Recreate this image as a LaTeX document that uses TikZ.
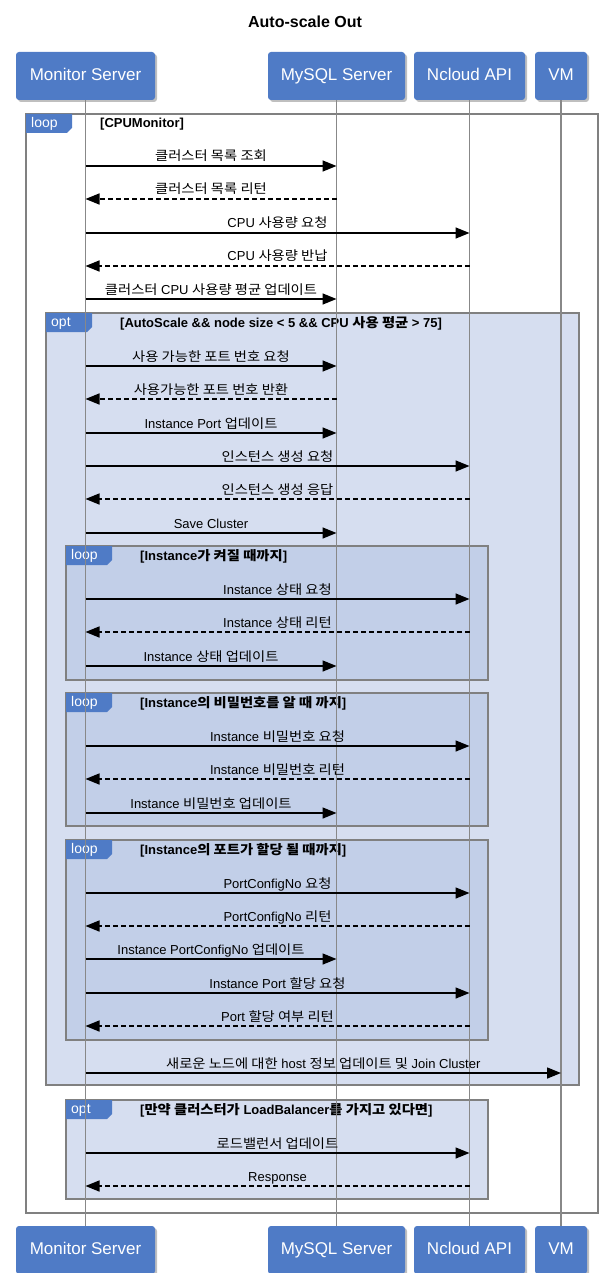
\documentclass[tikz,border=0pt]{standalone}
\usepackage{fontspec}
\setmainfont{Liberation Sans}
\newfontfamily\krfont{Noto Sans CJK KR}[FakeStretch=1.1]
\newcommand{\kr}[1]{{\krfont #1}}
\usetikzlibrary{arrows.meta,shadows}
\definecolor{boxblue}{RGB}{79,123,198}
\definecolor{optfill}{RGB}{214,222,240}
\definecolor{loopfill}{RGB}{194,207,232}
\definecolor{framegray}{RGB}{128,128,128}
\definecolor{lifegray}{RGB}{136,136,136}
\tikzset{
  participant/.style={rectangle, rounded corners=3pt, fill=boxblue, text=white,
    minimum height=48pt, inner sep=0pt, text height=12pt, text depth=3.5pt,
    font=\fontsize{17}{20}\selectfont,
    preaction={fill=black, opacity=0.25, transform canvas={shift={(2pt,-2pt)}}}},
  lifeline/.style={draw=lifegray, line width=1.5pt},
  frame/.style={draw=framegray, line width=2pt},
  tabshape/.style={fill=boxblue},
  tabtext/.style={text=white, anchor=west, inner sep=0pt, font=\fontsize{14}{16}\selectfont},
  cond/.style={anchor=west, inner sep=0pt, font=\bfseries\fontsize{13}{15}\selectfont},
  msgline/.style={line width=1.5pt, -{Triangle[length=14pt,width=11pt]}},
  retline/.style={msgline, dash pattern=on 5pt off 3pt},
  msglabel/.style={inner sep=0pt, anchor=base, yshift=5pt, font=\fontsize{13}{15}\selectfont},
  titlestyle/.style={font=\bfseries\fontsize{16}{19}\selectfont}
}
% frame: #1 name, #2 x0, #3 y0, #4 x1, #5 y1, #6 fill, #7 tab text, #8 condition
\newcommand{\seqframe}[8]{%
  \path[frame, fill=#6] (#2,#3) rectangle (#4,#5);
  \fill[tabshape] (#2,#3) -- ++(46,0) -- ++(0,14) -- ++(-5,5) -- ++(-41,0) -- cycle;
  \node[tabtext] (#1tab) at (#2+5,#3+10) {#7};
  \node[cond] (#1cond) at (#2+74,#3+10) {#8};
}
% message: #1 name, #2 y, #3 from, #4 to, #5 style, #6 label
\newcommand{\seqmsg}[6]{%
  \coordinate (#1y) at (0,#2);
  \coordinate (#1a) at (#3T.south |- #1y);
  \coordinate (#1b) at (#4T.south |- #1y);
  \draw[#5] (#1a) -- (#1b) node[msglabel, midway] (#1l) {#6};
}
\begin{document}
\begin{tikzpicture}[x=1pt,y=-1pt]
\useasboundingbox (0,0) rectangle (609,1273);
\node[titlestyle] (title) at (305,22) {Auto-scale Out};
% participants
\node[participant, minimum width=139pt] (mT) at (85.5,76) {Monitor Server};
\node[participant, minimum width=137pt] (sT) at (336.5,76) {MySQL Server};
\node[participant, minimum width=111pt] (nT) at (469.5,76) {Ncloud API};
\node[participant, minimum width=52pt] (vT) at (561,76) {VM};
\node[participant, minimum width=139pt] (mB) at (85.5,1250) {Monitor Server};
\node[participant, minimum width=137pt] (sB) at (336.5,1250) {MySQL Server};
\node[participant, minimum width=111pt] (nB) at (469.5,1250) {Ncloud API};
\node[participant, minimum width=52pt] (vB) at (561,1250) {VM};
% frames
\seqframe{fA}{26}{114}{598}{1213}{white}{loop}{[CPUMonitor]}
\seqframe{fB}{46}{313}{579}{1085}{optfill}{opt}{[AutoScale \&\& node size < 5 \&\& CPU \kr{사용 평균} > 75]}
\seqframe{fC}{66}{546}{488}{680}{loopfill}{loop}{[Instance\kr{가 켜질 때까지}]}
\seqframe{fD}{66}{693}{488}{826}{loopfill}{loop}{[Instance\kr{의 비밀번호를 알 때 까지}]}
\seqframe{fE}{66}{840}{488}{1040}{loopfill}{loop}{[Instance\kr{의 포트가 할당 될 때까지}]}
\seqframe{fF}{66}{1100}{488}{1199}{optfill}{opt}{[\kr{만약 클러스터가} LoadBalancer\kr{를 가지고 있다면}]}
% lifelines
\draw[lifeline] (mT.south) -- (mB.north);
\draw[lifeline] (sT.south) -- (sB.north);
\draw[lifeline] (nT.south) -- (nB.north);
\draw[lifeline] (vT.south) -- (vB.north);
% messages
\seqmsg{a1}{166}{m}{s}{msgline}{\kr{클러스터 목록 조회}}
\seqmsg{a2}{199}{s}{m}{retline}{\kr{클러스터 목록 리턴}}
\seqmsg{a3}{233}{m}{n}{msgline}{CPU \kr{사용량 요청}}
\seqmsg{a4}{266}{n}{m}{retline}{CPU \kr{사용량 반납}}
\seqmsg{a5}{299}{m}{s}{msgline}{\kr{클러스터} CPU \kr{사용량 평균 업데이트}}
\seqmsg{a6}{366}{m}{s}{msgline}{\kr{사용 가능한 포트 번호 요청}}
\seqmsg{a7}{399}{s}{m}{retline}{\kr{사용가능한 포트 번호 반환}}
\seqmsg{a8}{433}{m}{s}{msgline}{Instance Port \kr{업데이트}}
\seqmsg{a9}{466}{m}{n}{msgline}{\kr{인스턴스 생성 요청}}
\seqmsg{b0}{499}{n}{m}{retline}{\kr{인스턴스 생성 응답}}
\seqmsg{b1}{533}{m}{s}{msgline}{Save Cluster}
\seqmsg{b2}{599}{m}{n}{msgline}{Instance \kr{상태 요청}}
\seqmsg{b3}{632}{n}{m}{retline}{Instance \kr{상태 리턴}}
\seqmsg{b4}{666}{m}{s}{msgline}{Instance \kr{상태 업데이트}}
\seqmsg{b5}{746}{m}{n}{msgline}{Instance \kr{비밀번호 요청}}
\seqmsg{b6}{779}{n}{m}{retline}{Instance \kr{비밀번호 리턴}}
\seqmsg{b7}{813}{m}{s}{msgline}{Instance \kr{비밀번호 업데이트}}
\seqmsg{b8}{893}{m}{n}{msgline}{PortConfigNo \kr{요청}}
\seqmsg{b9}{926}{n}{m}{retline}{PortConfigNo \kr{리턴}}
\seqmsg{c0}{959}{m}{s}{msgline}{Instance PortConfigNo \kr{업데이트}}
\seqmsg{c1}{993}{m}{n}{msgline}{Instance Port \kr{할당 요청}}
\seqmsg{c2}{1026}{n}{m}{retline}{Port \kr{할당 여부 리턴}}
\seqmsg{c3}{1073}{m}{v}{msgline}{\kr{새로운 노드에 대한} host \kr{정보 업데이트 및} Join Cluster}
\seqmsg{c4}{1153}{m}{n}{msgline}{\kr{로드밸런서 업데이트}}
\seqmsg{c5}{1186}{n}{m}{retline}{Response}
\end{tikzpicture}
\end{document}
